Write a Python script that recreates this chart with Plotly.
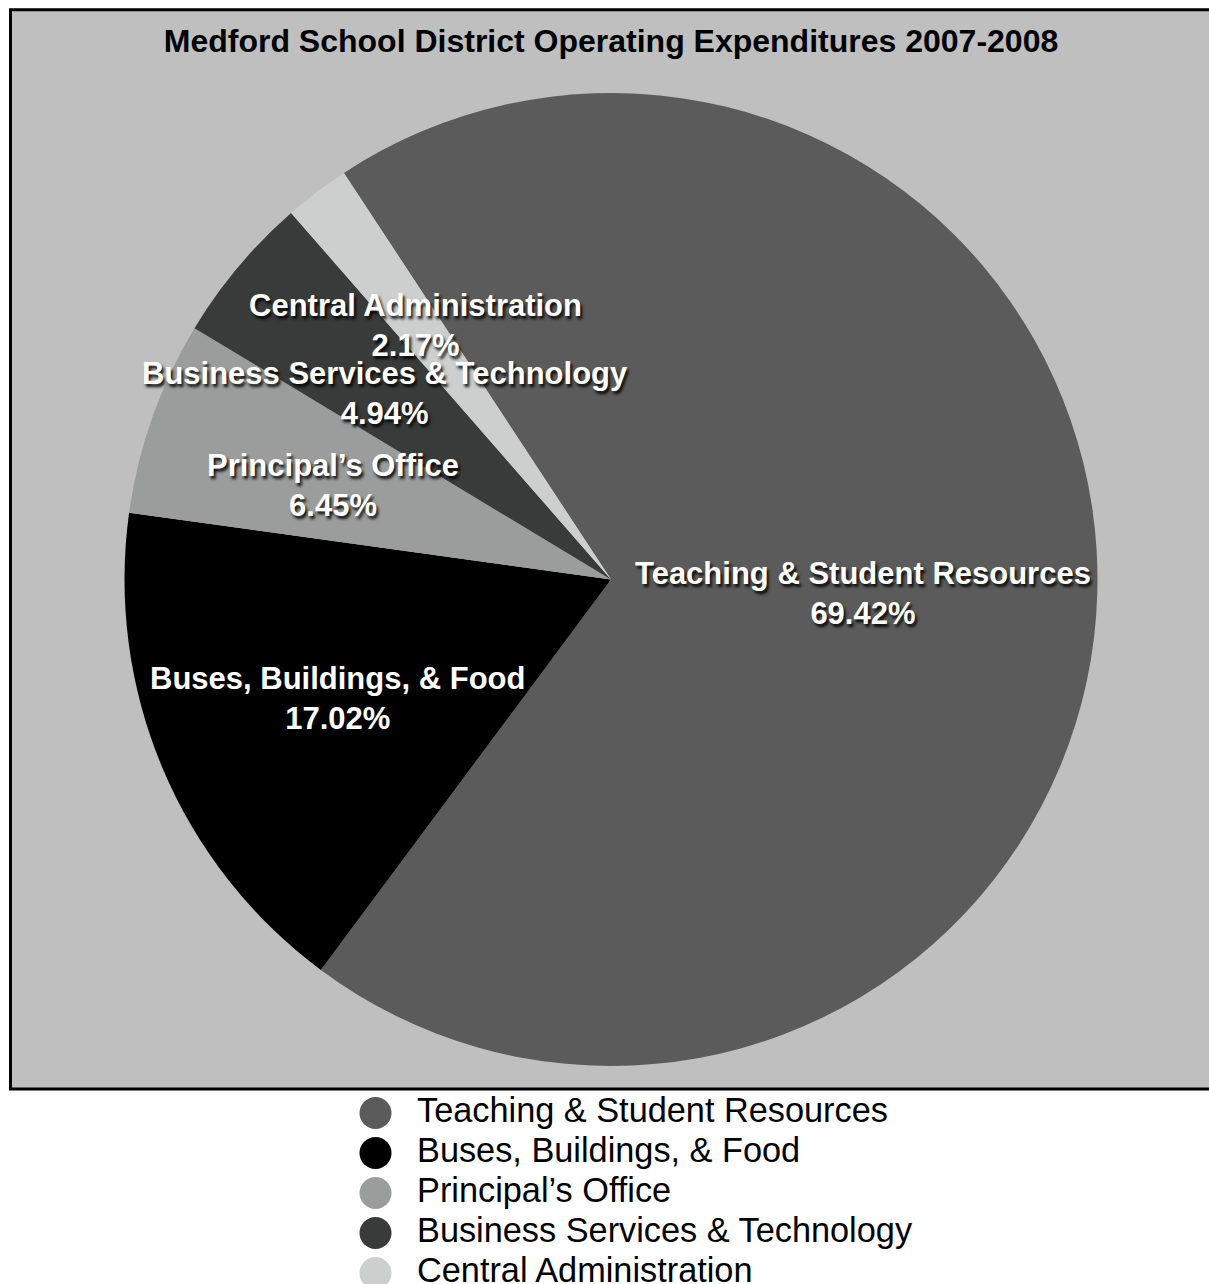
import plotly.graph_objects as go

# ---- data ----
categories = ["Teaching & Student Resources", "Buses, Buildings, & Food",
              "Principal\u2019s Office", "Business Services & Technology",
              "Central Administration"]
percentages = [69.42, 17.02, 6.45, 4.94, 2.17]
title_text = "Medford School District Operating Expenditures 2007-2008"

# ---- styles ----
colors = ["#5a5b5a", "#000000", "#9b9d9c", "#393b3a", "#cdcfce"]
W, H = 1209, 1284
FONT = "Liberation Sans, Arial, Helvetica, sans-serif"


def px(x):
    return x / W


def py(y):
    return 1 - y / H


cx, cy, r = 611, 579.5, 486.5
# label centres (pixels) for each slice, in category order
label_pos = [(863, 593), (338, 698), (333, 485), (385, 393), (415, 325)]

fig = go.Figure()
fig.add_trace(go.Pie(
    labels=categories,
    values=percentages,
    sort=False,
    direction="clockwise",
    rotation=-33.3,
    marker=dict(colors=colors, line=dict(width=0)),
    textinfo="none",
    hoverinfo="label+percent",
    showlegend=False,
    domain=dict(x=[px(cx - r), px(cx + r)], y=[py(cy + r), py(cy - r)]),
))

shapes = [dict(type="rect", xref="paper", yref="paper",
               x0=px(10.5), x1=px(1215), y0=py(1089), y1=py(9.8),
               fillcolor="#bfbfbf", line=dict(color="black", width=3),
               layer="below")]

annotations = []
for name, val, (lx, ly) in zip(categories, percentages, label_pos):
    annotations.append(dict(
        xref="paper", yref="paper", x=px(lx), y=py(ly),
        xanchor="center", yanchor="middle", showarrow=False,
        text=f"{name}<br>{val:.2f}%",
        font=dict(family=FONT, size=31, color="white", weight="bold",
                  shadow="2px 3px 3px rgba(0,0,0,0.9)"),
    ))

# legend (manual, circular symbols)
leg_x, leg_y0, leg_dy, leg_r = 375.5, 1113, 40, 16
for i, (name, col) in enumerate(zip(categories, colors)):
    yy = leg_y0 + i * leg_dy
    shapes.append(dict(type="circle", xref="paper", yref="paper",
                       x0=px(leg_x - leg_r), x1=px(leg_x + leg_r),
                       y0=py(yy + leg_r), y1=py(yy - leg_r),
                       fillcolor=col, line=dict(width=0)))
    annotations.append(dict(
        xref="paper", yref="paper", x=px(415), y=py(yy - 3),
        xanchor="left", yanchor="middle", showarrow=False,
        text=name, font=dict(family=FONT, size=34.3, color="black"),
    ))

fig.update_layout(
    width=W, height=H,
    margin=dict(l=0, r=0, t=0, b=0),
    paper_bgcolor="white",
    plot_bgcolor="white",
    title=dict(text=title_text, x=px(611), y=py(41), xanchor="center",
               yanchor="middle", xref="paper", yref="paper",
               font=dict(family=FONT, size=32, color="black", weight="bold")),
    shapes=shapes,
    annotations=annotations,
)

fig.write_html("out.html")
